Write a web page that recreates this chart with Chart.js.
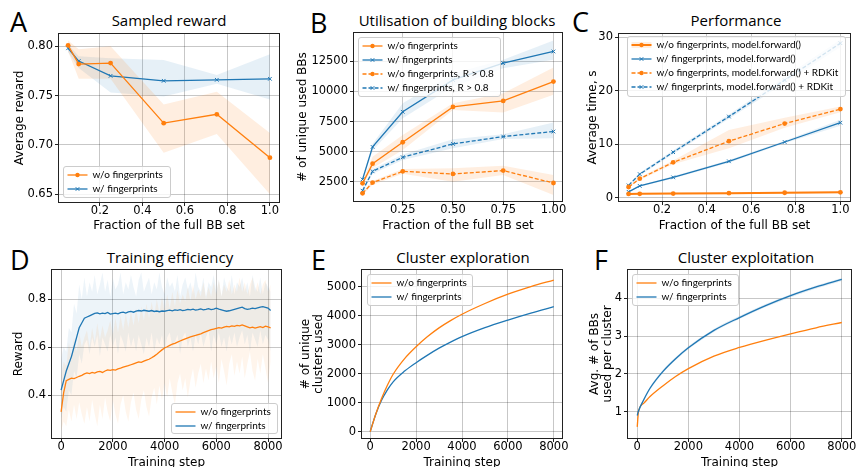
<!DOCTYPE html>
<html>
<head>
<meta charset="utf-8">
<script src="https://cdn.jsdelivr.net/npm/chart.js@4.4.1/dist/chart.umd.min.js"></script>
<style>
  body { margin: 0; width: 857px; height: 467px; position: relative; overflow: hidden; background: #fff; }
  canvas { position: absolute; }
  .letter { position: absolute; font-family: 'Open Sans'; font-size: 27px; line-height: 1; color: #000; }
  .title { position: absolute; font-family: 'Open Sans'; font-size: 15px; color: #000; white-space: nowrap; transform: translate(-50%, -50%); }
</style>
</head>
<body>
<div class="letter" style="left:10px;top:8px">A</div>
<div class="letter" style="left:310px;top:9px">B</div>
<div class="letter" style="left:572px;top:8px">C</div>
<div class="letter" style="left:10px;top:246px">D</div>
<div class="letter" style="left:311px;top:246px">E</div>
<div class="letter" style="left:594px;top:246px">F</div>

<div class="title" style="left:169px;top:20px">Sampled reward</div>
<div class="title" style="left:457px;top:20px">Utilisation of building blocks</div>
<div class="title" style="left:736px;top:20px">Performance</div>
<div class="title" style="left:170px;top:257px">Training efficiency</div>
<div class="title" style="left:463px;top:257px">Cluster exploration</div>
<div class="title" style="left:746px;top:257px">Cluster exploitation</div>

<canvas id="chartA" width="285" height="233" style="left:0px;top:0px"></canvas>
<canvas id="chartB" width="280" height="233" style="left:288px;top:0px"></canvas>
<canvas id="chartC" width="285" height="233" style="left:572px;top:0px"></canvas>
<canvas id="chartD" width="285" height="235" style="left:0px;top:235px"></canvas>
<canvas id="chartE" width="280" height="235" style="left:288px;top:235px"></canvas>
<canvas id="chartF" width="285" height="235" style="left:572px;top:235px"></canvas>

<script>
// ---- data ----
const fractions = [0.05, 0.1, 0.25, 0.5, 0.75, 1.0];
const fractionTicks = [0.2, 0.4, 0.6, 0.8, 1.0];
const fractionTicksB = [0.25, 0.5, 0.75, 1.0];
const stepTicks = [0, 2000, 4000, 6000, 8000];

// A: sampled reward
const rewardNoFp   = [0.801, 0.782, 0.783, 0.722, 0.731, 0.687];
const rewardNoFpLo = [0.795, 0.767, 0.767, 0.692, 0.711, 0.650];
const rewardNoFpHi = [0.806, 0.797, 0.800, 0.741, 0.754, 0.712];
const rewardFp     = [0.798, 0.785, 0.770, 0.765, 0.766, 0.767];
const rewardFpLo   = [0.794, 0.778, 0.753, 0.749, 0.762, 0.746];
const rewardFpHi   = [0.802, 0.790, 0.788, 0.786, 0.771, 0.792];
const rewardTicks  = [0.65, 0.70, 0.75, 0.80];

// B: unique building blocks
const bbNoFp    = [2360, 4000, 5780, 8720, 9220, 10830];
const bbNoFpLo  = [2200, 3610, 5140, 8470, 8250, 9720];
const bbNoFpHi  = [2500, 4580, 6390, 9030, 9860, 12000];
const bbFp      = [2690, 5390, 8310, 10970, 12360, 13330];
const bbFpLo    = [2500, 5100, 7780, 10400, 11940, 12640];
const bbFpHi    = [2900, 5650, 9030, 11500, 12640, 14250];
const bbNoFpR   = [1530, 2420, 3360, 3140, 3420, 2390];
const bbNoFpRLo = [1400, 2250, 3150, 2500, 3060, 1390];
const bbNoFpRHi = [1650, 2550, 3550, 3610, 3830, 3060];
const bbFpR     = [1750, 3360, 4530, 5640, 6250, 6670];
const bbFpRLo   = [1600, 3150, 4300, 5280, 6050, 6110];
const bbFpRHi   = [1900, 3550, 4750, 6030, 6450, 7420];
const bbTicks   = [2500, 5000, 7500, 10000, 12500];

// C: timing
const timeNoFp     = [0.75, 0.78, 0.82, 0.90, 0.98, 1.05];
const timeNoFpLo   = [0.60, 0.62, 0.66, 0.72, 0.80, 0.88];
const timeNoFpHi   = [0.90, 0.94, 0.98, 1.08, 1.16, 1.22];
const timeFp       = [1.15, 2.25, 3.85, 6.85, 10.45, 14.05];
const timeFpLo     = [1.05, 2.10, 3.65, 6.60, 10.20, 13.50];
const timeFpHi     = [1.25, 2.40, 4.05, 7.10, 10.70, 14.60];
const timeNoFpRd   = [2.05, 3.60, 6.65, 10.60, 13.90, 16.60];
const timeNoFpRdLo = [1.90, 3.35, 6.30, 9.30, 13.10, 16.00];
const timeNoFpRdHi = [2.20, 3.85, 7.00, 12.70, 15.00, 17.10];
const timeFpRd     = [2.35, 4.45, 8.55, 15.20, 22.00, 28.90];
const timeFpRdLo   = [2.20, 4.20, 8.20, 14.80, 21.40, 28.20];
const timeFpRdHi   = [2.50, 4.70, 8.90, 15.60, 22.60, 29.60];
const timeTicks    = [0, 10, 20, 30];

// D: training reward, every 100 steps from 0 to 8100
const trainSteps = [];
for (let s = 0; s <= 8100; s += 100) trainSteps.push(s);
const trainFp = [
  0.420, 0.460, 0.500, 0.530, 0.560, 0.600, 0.640, 0.680, 0.700, 0.720,
  0.725, 0.730, 0.735, 0.740, 0.742, 0.738, 0.741, 0.739, 0.744, 0.737,
  0.739, 0.741, 0.738, 0.743, 0.745, 0.741, 0.746, 0.748, 0.745, 0.749,
  0.752, 0.750, 0.753, 0.751, 0.749, 0.752, 0.748, 0.750, 0.747, 0.750,
  0.749, 0.752, 0.754, 0.751, 0.755, 0.753, 0.756, 0.752, 0.754, 0.757,
  0.755, 0.758, 0.754, 0.756, 0.759, 0.755, 0.757, 0.760, 0.756, 0.758,
  0.762, 0.758, 0.755, 0.752, 0.749, 0.751, 0.754, 0.757, 0.760, 0.763,
  0.766, 0.760, 0.757, 0.759, 0.762, 0.760, 0.763, 0.766, 0.768, 0.765,
  0.762, 0.752
];
const trainNoFp = [
  0.330, 0.410, 0.460, 0.465, 0.470, 0.468, 0.473, 0.478, 0.482, 0.488,
  0.492, 0.489, 0.494, 0.491, 0.496, 0.498, 0.494, 0.500, 0.505, 0.503,
  0.506, 0.504, 0.509, 0.512, 0.516, 0.519, 0.522, 0.526, 0.530, 0.534,
  0.538, 0.536, 0.541, 0.545, 0.549, 0.555, 0.562, 0.570, 0.579, 0.588,
  0.596, 0.601, 0.607, 0.612, 0.615, 0.620, 0.625, 0.630, 0.634, 0.638,
  0.642, 0.645, 0.648, 0.652, 0.655, 0.660, 0.664, 0.668, 0.672, 0.675,
  0.678, 0.681, 0.679, 0.683, 0.686, 0.684, 0.688, 0.686, 0.690, 0.688,
  0.692, 0.688, 0.684, 0.680, 0.683, 0.679, 0.682, 0.685, 0.681, 0.687,
  0.684, 0.680
];
const trainFpHi = [
  0.55, 0.60, 0.58, 0.68, 0.66, 0.78, 0.74, 0.86, 0.80, 0.89,
  0.81, 0.87, 0.83, 0.90, 0.82, 0.86, 0.91, 0.83, 0.88, 0.81,
  0.89, 0.84, 0.86, 0.91, 0.82, 0.87, 0.84, 0.90, 0.85, 0.81,
  0.88, 0.91, 0.83, 0.86, 0.89, 0.82, 0.87, 0.84, 0.91, 0.85,
  0.82, 0.89, 0.85, 0.87, 0.83, 0.90, 0.81, 0.86, 0.89, 0.84,
  0.87, 0.82, 0.91, 0.85, 0.83, 0.89, 0.81, 0.87, 0.85, 0.90,
  0.83, 0.88, 0.81, 0.89, 0.85, 0.83, 0.90, 0.82, 0.87, 0.85,
  0.89, 0.83, 0.87, 0.81, 0.90, 0.85, 0.83, 0.89, 0.82, 0.87,
  0.85, 0.83
];
const trainFpLo = [
  0.30, 0.35, 0.33, 0.42, 0.40, 0.50, 0.47, 0.57, 0.53, 0.61,
  0.63, 0.57, 0.64, 0.60, 0.65, 0.56, 0.64, 0.61, 0.58, 0.65,
  0.60, 0.64, 0.57, 0.65, 0.62, 0.58, 0.66, 0.60, 0.64, 0.58,
  0.65, 0.61, 0.57, 0.64, 0.60, 0.66, 0.58, 0.64, 0.61, 0.65,
  0.58, 0.64, 0.66, 0.60, 0.62, 0.65, 0.57, 0.64, 0.66, 0.60,
  0.64, 0.58, 0.65, 0.61, 0.66, 0.60, 0.64, 0.67, 0.58, 0.65,
  0.61, 0.66, 0.60, 0.64, 0.58, 0.65, 0.61, 0.66, 0.60, 0.64,
  0.67, 0.61, 0.65, 0.58, 0.66, 0.63, 0.60, 0.67, 0.61, 0.65,
  0.63, 0.58
];
const trainNoFpHi = [
  0.48, 0.54, 0.52, 0.62, 0.56, 0.64, 0.58, 0.66, 0.60, 0.64,
  0.67, 0.60, 0.68, 0.62, 0.70, 0.63, 0.69, 0.64, 0.67, 0.71,
  0.65, 0.72, 0.66, 0.73, 0.67, 0.74, 0.68, 0.75, 0.69, 0.76,
  0.70, 0.77, 0.71, 0.78, 0.72, 0.79, 0.73, 0.80, 0.74, 0.81,
  0.75, 0.82, 0.76, 0.83, 0.77, 0.84, 0.78, 0.82, 0.79, 0.85,
  0.79, 0.86, 0.80, 0.84, 0.81, 0.87, 0.80, 0.85, 0.81, 0.87,
  0.82, 0.88, 0.81, 0.86, 0.83, 0.88, 0.82, 0.86, 0.83, 0.89,
  0.83, 0.87, 0.82, 0.86, 0.89, 0.83, 0.87, 0.82, 0.86, 0.88,
  0.83, 0.86
];
const trainNoFpLo = [
  0.25, 0.29, 0.27, 0.34, 0.29, 0.36, 0.30, 0.37, 0.32, 0.28,
  0.35, 0.29, 0.38, 0.32, 0.27, 0.36, 0.30, 0.39, 0.33, 0.29,
  0.38, 0.32, 0.28, 0.36, 0.40, 0.33, 0.29, 0.37, 0.41, 0.34,
  0.30, 0.38, 0.42, 0.35, 0.31, 0.39, 0.43, 0.36, 0.44, 0.38,
  0.45, 0.39, 0.47, 0.41, 0.36, 0.45, 0.49, 0.42, 0.47, 0.39,
  0.46, 0.51, 0.43, 0.49, 0.53, 0.45, 0.51, 0.46, 0.54, 0.47,
  0.52, 0.45, 0.55, 0.50, 0.44, 0.53, 0.57, 0.48, 0.54, 0.49,
  0.56, 0.47, 0.53, 0.58, 0.50, 0.46, 0.55, 0.49, 0.57, 0.51,
  0.45, 0.54
];
const trainTicks = [0.4, 0.6, 0.8];

// E: unique clusters used
const clusterSteps = [0, 250, 500, 750, 1000, 1500, 2000, 2500, 3000, 3500, 4000, 5000, 6000, 7000, 8000];
const clustersNoFp = [0, 620, 1150, 1600, 1980, 2520, 2930, 3280, 3580, 3830, 4050, 4420, 4740, 5000, 5230];
const clustersFp   = [0, 620, 1090, 1440, 1720, 2090, 2380, 2640, 2880, 3090, 3280, 3590, 3850, 4090, 4310];
const clusterTicks = [0, 1000, 2000, 3000, 4000, 5000];

// F: building blocks per cluster
const perClusterSteps = [0, 50, 250, 500, 1000, 1500, 2000, 3000, 4000, 5000, 6000, 7000, 8000];
const perClusterNoFp  = [0.60, 1.00, 1.22, 1.40, 1.68, 1.93, 2.14, 2.47, 2.70, 2.89, 3.06, 3.22, 3.36];
const perClusterFp    = [0.90, 1.02, 1.31, 1.62, 2.06, 2.40, 2.69, 3.15, 3.49, 3.80, 4.07, 4.30, 4.50];
const perClusterFpLo  = [0.88, 0.99, 1.27, 1.58, 2.02, 2.36, 2.65, 3.11, 3.45, 3.76, 4.03, 4.26, 4.46];
const perClusterFpHi  = [0.92, 1.05, 1.35, 1.66, 2.10, 2.44, 2.73, 3.19, 3.53, 3.84, 4.11, 4.34, 4.54];
const perClusterTicks = [1, 2, 3, 4];

// ---- styling ----
const ORANGE = '#ff7f0e', BLUE = '#1f77b4';
const ORANGE_BAND = 'rgba(255,127,14,0.13)', BLUE_BAND = 'rgba(31,119,180,0.11)';
const GRID = 'rgba(0,0,0,0.22)';

Chart.defaults.font.family = "'DejaVu Sans', sans-serif";
Chart.defaults.color = '#000';

function pts(xs, ys) { return xs.map((x, i) => ({x: x, y: ys[i]})); }
function line(xs, ys, color, extra) {
  return Object.assign({data: pts(xs, ys), borderColor: color, backgroundColor: color,
    borderWidth: 1.3, pointRadius: 0, fill: false, tension: 0}, extra || {});
}
function band(xs, lo, hi, color, extra) {
  return [
    Object.assign({data: pts(xs, hi), borderWidth: 0, pointRadius: 0, backgroundColor: color, fill: '+1'}, extra || {}),
    Object.assign({data: pts(xs, lo), borderWidth: 0, pointRadius: 0, fill: false}, extra || {})
  ];
}
const dot = {pointStyle: 'circle', pointRadius: 2.4, pointBorderWidth: 0};
const cross = {pointStyle: 'crossRot', pointRadius: 2.6, pointBorderWidth: 1};
const dashed = {borderDash: [4, 2]};
const smooth = {cubicInterpolationMode: 'monotone'};

// legends drawn inside the plot, like matplotlib
const LEGENDS = {
  chartA: {x: 5, y: 133, w: 107, h: 31, items: [
    {label: 'w/o fingerprints', color: ORANGE, marker: 'o'},
    {label: 'w/ fingerprints', color: BLUE, marker: 'x'}]},
  chartB: {x: 5, y: 5, w: 142, h: 59, items: [
    {label: 'w/o fingerprints', color: ORANGE, marker: 'o'},
    {label: 'w/ fingerprints', color: BLUE, marker: 'x'},
    {label: 'w/o fingerprints, R > 0.8', color: ORANGE, marker: 'o', dash: [4, 2]},
    {label: 'w/ fingerprints, R > 0.8', color: BLUE, marker: 'x', dash: [4, 2]}]},
  chartC: {x: 9, y: 3, w: 218, h: 60, items: [
    {label: 'w/o fingerprints, model.forward()', color: ORANGE, marker: 'o', width: 2, patch: ORANGE_BAND},
    {label: 'w/ fingerprints, model.forward()', color: BLUE, marker: 'x'},
    {label: 'w/o fingerprints, model.forward() + RDKit', color: ORANGE, marker: 'o', dash: [4, 2]},
    {label: 'w/ fingerprints, model.forward() + RDKit', color: BLUE, marker: 'x', dash: [4, 2]}]},
  chartD: {x: 120, y: 134, w: 106, h: 30, items: [
    {label: 'w/o fingerprints', color: ORANGE},
    {label: 'w/ fingerprints', color: BLUE}]},
  chartE: {x: 6, y: 5, w: 105, h: 31, items: [
    {label: 'w/o fingerprints', color: ORANGE},
    {label: 'w/ fingerprints', color: BLUE}]},
  chartF: {x: 5, y: 5, w: 106, h: 31, items: [
    {label: 'w/o fingerprints', color: ORANGE},
    {label: 'w/ fingerprints', color: BLUE}]}
};

const frame = {
  id: 'frame',
  afterDatasetsDraw(chart) {
    const {ctx, chartArea: a} = chart;
    ctx.save();
    ctx.strokeStyle = '#222';
    ctx.lineWidth = 1;
    ctx.strokeRect(Math.round(a.left) + 0.5, Math.round(a.top) + 0.5,
      Math.round(a.right - a.left) - 1, Math.round(a.bottom - a.top) - 1);
    ctx.restore();
  }
};

const boxLegend = {
  id: 'boxLegend',
  afterDraw(chart) {
    const lg = LEGENDS[chart.canvas.id];
    if (!lg) return;
    const {ctx, chartArea: a} = chart;
    const x0 = Math.round(a.left + lg.x) + 0.5, y0 = Math.round(a.top + lg.y) + 0.5;
    ctx.save();
    ctx.beginPath();
    ctx.roundRect(x0, y0, lg.w, lg.h, 2.5);
    ctx.fillStyle = 'rgba(255,255,255,0.8)';
    ctx.fill();
    ctx.strokeStyle = '#cccccc';
    ctx.lineWidth = 1;
    ctx.stroke();
    ctx.font = '10px Lato';
    ctx.textBaseline = 'middle';
    lg.items.forEach((it, i) => {
      const y = y0 + 8.5 + i * 14;
      const l0 = x0 + 4, l1 = x0 + 24, mx = (l0 + l1) / 2;
      if (it.patch) { ctx.fillStyle = it.patch; ctx.fillRect(l0, y - 3, l1 - l0, 6); }
      ctx.strokeStyle = it.color;
      ctx.lineWidth = it.width || 1.3;
      ctx.setLineDash(it.dash || []);
      ctx.beginPath(); ctx.moveTo(l0, y); ctx.lineTo(l1, y); ctx.stroke();
      ctx.setLineDash([]);
      if (it.marker === 'o') {
        ctx.fillStyle = it.color;
        ctx.beginPath(); ctx.arc(mx, y, 2.2, 0, Math.PI * 2); ctx.fill();
      } else if (it.marker === 'x') {
        ctx.lineWidth = 1;
        ctx.beginPath();
        ctx.moveTo(mx - 1.8, y - 1.8); ctx.lineTo(mx + 1.8, y + 1.8);
        ctx.moveTo(mx - 1.8, y + 1.8); ctx.lineTo(mx + 1.8, y - 1.8);
        ctx.stroke();
      }
      ctx.fillStyle = '#000';
      ctx.fillText(it.label, x0 + 29, y);
    });
    ctx.restore();
  }
};

Chart.register(frame, boxLegend);

function makeChart(id, p, datasets) {
  const fmt = d => v => d === null ? String(v) : Number(v).toFixed(d);
  const xf = fmt(p.xDec), yf = fmt(p.yDec);
  new Chart(document.getElementById(id), {
    type: 'line',
    data: {datasets: datasets},
    options: {
      responsive: false,
      animation: false,
      events: [],
      layout: {padding: {top: p.padTop, right: p.padRight, left: 0, bottom: 0}},
      plugins: {legend: {display: false}, tooltip: {enabled: false}},
      scales: {
        x: {
          type: 'linear', min: p.x[0], max: p.x[1],
          afterBuildTicks: s => { s.ticks = p.xTicks.map(v => ({value: v})); },
          afterFit: s => { s.height = p.xH; },
          ticks: {autoSkip: false, maxRotation: 0, padding: -1, font: {size: 11.5, lineHeight: 1}, callback: v => xf(v)},
          grid: {color: GRID, tickColor: '#222', tickLength: 3},
          border: {display: false},
          title: {display: true, text: p.xTitle, font: {size: 12}, padding: {top: 0, bottom: 0}}
        },
        y: {
          type: 'linear', min: p.y[0], max: p.y[1],
          afterBuildTicks: s => { s.ticks = p.yTicks.map(v => ({value: v})); },
          afterFit: s => { s.width = p.yW; },
          ticks: {autoSkip: false, padding: 2, font: {size: 11.5, lineHeight: 1}, callback: v => yf(v)},
          grid: {color: GRID, tickColor: '#222', tickLength: 3},
          border: {display: false},
          title: {display: true, text: p.yTitle, font: {size: 12, lineHeight: 1.1}, padding: {top: p.yTitlePad, bottom: 0}}
        }
      }
    }
  });
}

// A
makeChart('chartA', {
  x: [0.0025, 1.0475], y: [0.641, 0.8135], xTicks: fractionTicks, yTicks: rewardTicks, xDec: 1, yDec: 2,
  xTitle: 'Fraction of the full BB set', yTitle: 'Average reward',
  padTop: 33, padRight: 5, yW: 58, xH: 30, yTitlePad: 13
}, [
  line(fractions, rewardNoFp, ORANGE, dot),
  line(fractions, rewardFp, BLUE, cross),
  ...band(fractions, rewardNoFpLo, rewardNoFpHi, ORANGE_BAND),
  ...band(fractions, rewardFpLo, rewardFpHi, BLUE_BAND)
]);

// B
makeChart('chartB', {
  x: [0.0025, 1.0475], y: [808, 14950], xTicks: fractionTicksB, yTicks: bbTicks, xDec: 2, yDec: null,
  xTitle: 'Fraction of the full BB set', yTitle: '# of unique used BBs',
  padTop: 32, padRight: 5, yW: 65, xH: 31, yTitlePad: 8
}, [
  line(fractions, bbNoFp, ORANGE, dot),
  line(fractions, bbFp, BLUE, cross),
  line(fractions, bbNoFpR, ORANGE, Object.assign({}, dot, dashed)),
  line(fractions, bbFpR, BLUE, Object.assign({}, cross, dashed)),
  ...band(fractions, bbNoFpLo, bbNoFpHi, ORANGE_BAND),
  ...band(fractions, bbFpLo, bbFpHi, BLUE_BAND),
  ...band(fractions, bbNoFpRLo, bbNoFpRHi, ORANGE_BAND),
  ...band(fractions, bbFpRLo, bbFpRHi, BLUE_BAND)
]);

// C
makeChart('chartC', {
  x: [0.0025, 1.0475], y: [-0.75, 30.8], xTicks: fractionTicks, yTicks: timeTicks, xDec: 1, yDec: null,
  xTitle: 'Fraction of the full BB set', yTitle: 'Average time, s',
  padTop: 33, padRight: 6, yW: 46, xH: 31, yTitlePad: 14
}, [
  line(fractions, timeNoFp, ORANGE, Object.assign({borderWidth: 2}, dot)),
  line(fractions, timeFp, BLUE, cross),
  line(fractions, timeNoFpRd, ORANGE, Object.assign({}, dot, dashed)),
  line(fractions, timeFpRd, BLUE, Object.assign({}, cross, dashed)),
  ...band(fractions, timeNoFpLo, timeNoFpHi, ORANGE_BAND),
  ...band(fractions, timeFpLo, timeFpHi, BLUE_BAND),
  ...band(fractions, timeNoFpRdLo, timeNoFpRdHi, ORANGE_BAND),
  ...band(fractions, timeFpRdLo, timeFpRdHi, BLUE_BAND)
]);

// D
makeChart('chartD', {
  x: [-390, 8540], y: [0.2167, 0.925], xTicks: stepTicks, yTicks: trainTicks, xDec: null, yDec: 1,
  xTitle: 'Training step', yTitle: 'Reward',
  padTop: 34, padRight: 3, yW: 51, xH: 31, yTitlePad: 12
}, [
  line(trainSteps, trainFp, BLUE),
  line(trainSteps, trainNoFp, ORANGE),
  ...band(trainSteps, trainNoFpLo, trainNoFpHi, 'rgba(255,127,14,0.08)'),
  ...band(trainSteps, trainFpLo, trainFpHi, 'rgba(31,119,180,0.08)')
]);

// E
makeChart('chartE', {
  x: [-400, 8400], y: [-252, 5610], xTicks: stepTicks, yTicks: clusterTicks, xDec: null, yDec: null,
  xTitle: 'Training step', yTitle: ['# of unique', 'clusters used'],
  padTop: 34, padRight: 5, yW: 73, xH: 31, yTitlePad: 11
}, [
  line(clusterSteps, clustersNoFp, ORANGE, smooth),
  line(clusterSteps, clustersFp, BLUE, smooth)
]);

// F
makeChart('chartF', {
  x: [-400, 8400], y: [0.278, 4.775], xTicks: stepTicks, yTicks: perClusterTicks, xDec: null, yDec: null,
  xTitle: 'Training step', yTitle: ['Avg. # of BBs', 'used per cluster'],
  padTop: 34, padRight: 5, yW: 55, xH: 31, yTitlePad: 16
}, [
  line(perClusterSteps, perClusterFp, BLUE, smooth),
  line(perClusterSteps, perClusterNoFp, ORANGE, smooth),
  ...band(perClusterSteps, perClusterFpLo, perClusterFpHi, 'rgba(31,119,180,0.15)', smooth)
]);
</script>
</body>
</html>
